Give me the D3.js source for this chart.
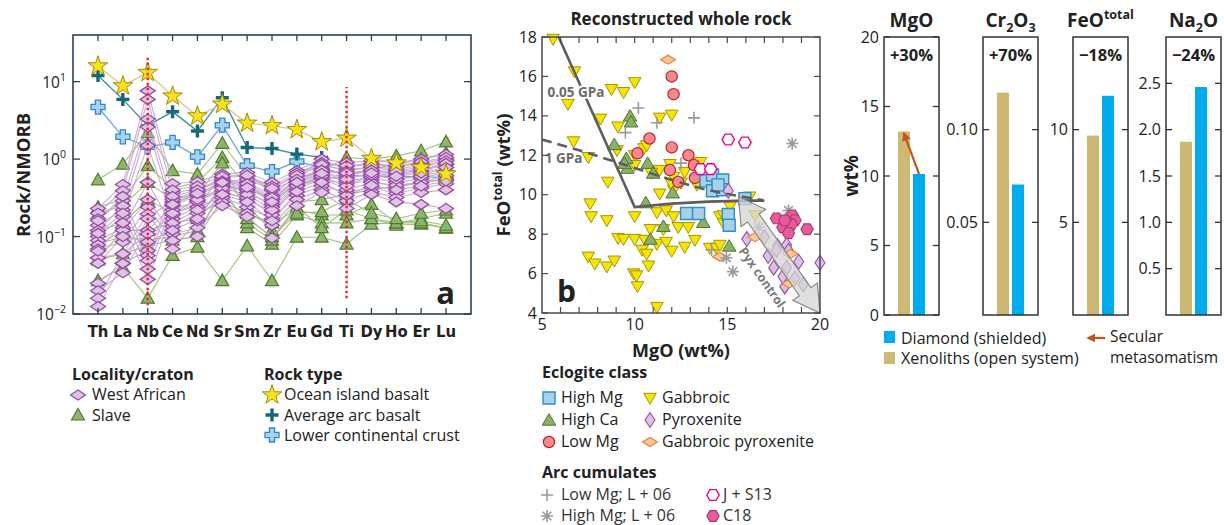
<!DOCTYPE html>
<html>
<head>
<meta charset="utf-8">
<script src="https://cdn.jsdelivr.net/npm/d3@7"></script>
<style>
  body { margin: 0; background: #fff; }
  svg { display: block; font-family: "Open Sans", "Noto Sans", sans-serif; }
</style>
</head>
<body>
<svg id="fig" width="1224" height="525"></svg>
<script>
// ---------- data: panel a (normalised to NMORB) ----------
const elements = ["Th","La","Nb","Ce","Nd","Sr","Sm","Zr","Eu","Gd","Ti","Dy","Ho","Er","Lu"];

const oib       = [15.9, 8.8, 13.1, 6.5, 3.6, 5.1, 2.9, 2.7, 2.4, 1.67, 1.86, 1.02, 0.89, 0.78, 0.64];
const arcBasalt = [12.0, 5.9, 2.7, 4.1, 2.3, 6.2, 1.41, 1.37, 1.16, 1.05, null, null, null, null, null];
const lowerCrust = [4.7, 1.94, 1.44, 1.64, 1.07, 2.74, 0.82, 0.69, 0.93, 0.78, 0.62, 0.6, 0.6, 0.59, 0.58];

const westAfrican = [
  [0.23, 0.47, 7.6, 0.48, 0.51, 0.64, 0.67, 0.50, 0.71, 1.0, 0.9, 0.95, 0.9, 1.0, 1.15],
  [0.20, 0.39, 5.9, 0.37, 0.41, 0.55, 0.50, 0.34, 0.61, 0.82, 0.74, 0.78, 0.71, 0.78, 0.95],
  [0.17, 0.29, 3.3, 0.28, 0.34, 0.48, 0.37, 0.26, 0.50, 0.67, 0.58, 0.64, 0.55, 0.61, 0.78],
  [0.14, 0.22, 2.6, 0.22, 0.29, 0.39, 0.30, 0.21, 0.41, 0.55, 0.48, 0.53, 0.43, 0.50, 0.61],
  [0.10, 0.18, 1.5, 0.17, 0.24, 0.32, 0.24, 0.17, 0.34, 0.45, 0.37, 0.43, 0.36, 0.42, 0.48],
  [0.089, 0.13, 0.5, 0.135, 0.20, 0.28, 0.20, 0.14, 0.30, 0.40, 0.29, 0.38, 0.32, 0.37, 0.40],
  [0.078, 0.12, 0.30, 0.108, 0.13, 0.25, 0.18, 0.096, 0.25, 0.37, 0.23, 0.35, 0.28, 0.26, 0.23],
  [0.069, 0.085, 0.24, 0.089, 0.10, 0.45, 0.42, 0.30, 0.55, 0.75, 0.62, 0.70, 0.62, 0.70, 0.85],
  [0.053, 0.06, 0.195, 0.069, 0.16, 0.50, 0.55, 0.40, 0.65, 0.88, 0.80, 0.85, 0.80, 0.88, 1.0],
  [0.025, 0.045, 0.17, 0.30, 0.38, 0.58, 0.60, 0.45, 0.66, 0.90, 0.82, 0.88, 0.82, 0.92, 1.05],
  [0.020, 0.034, 0.12, 0.25, 0.34, 0.52, 0.45, 0.30, 0.52, 0.70, 0.65, 0.72, 0.65, 0.72, 0.85],
  [0.016, 0.06, 0.108, 0.19, 0.28, 0.44, 0.40, 0.24, 0.47, 0.62, 0.52, 0.58, 0.50, 0.56, 0.68],
  [0.0125, 0.045, 0.066, 0.15, 0.22, 0.36, 0.32, 0.19, 0.45, 0.58, 0.40, 0.50, 0.46, 0.50, 0.55],
  [0.16, 0.33, 0.057, 0.40, 0.45, 0.60, 0.62, 0.42, 0.62, 0.85, 0.70, 0.80, 0.75, 0.82, 0.95],
  [0.12, 0.25, 0.049, 0.33, 0.40, 0.52, 0.48, 0.32, 0.55, 0.72, 0.66, 0.72, 0.68, 0.74, 0.88],
  [0.065, 0.15, 0.028, 0.20, 0.30, 0.42, 0.35, 0.22, 0.45, 0.60, 0.45, 0.62, 0.55, 0.60, 0.70],
  [0.11, 0.20, 0.038, 0.26, 0.36, 0.50, 0.43, 0.28, 0.50, 0.65, 0.55, 0.66, 0.60, 0.66, 0.78],
  [0.045, 0.10, 0.085, 0.12, 0.17, 0.35, 0.28, 0.16, 0.38, 0.50, 0.34, 0.46, 0.40, 0.45, 0.52]
];

const slave = [
  [0.54, 0.86, 2.2, 0.71, 0.64, 1.6, 0.6, 0.4, 0.55, 0.7, 1.05, 1.0, 1.1, 1.28, 1.67],
  [0.24, 0.30, 0.82, 0.42, 0.50, 1.05, 0.45, 0.30, 0.45, 0.55, 0.60, 0.75, 0.85, 1.0, 1.2],
  [0.20, 0.25, 0.5, 0.30, 0.35, 0.89, 0.20, 0.15, 0.22, 0.19, 0.19, 0.26, 0.15, 0.17, 0.2],
  [0.051, 0.12, 0.12, 0.15, 0.17, 0.45, 0.13, 0.08, 0.19, 0.15, 0.15, 0.17, 0.14, 0.145, 0.128],
  [0.027, 0.04, 0.016, 0.057, 0.073, 0.027, 0.076, 0.027, 0.098, 0.098, 0.08, 0.145, 0.15, 0.15, 0.13],
  [0.05, 0.06, 0.076, 0.09, 0.10, 0.3, 0.15, 0.09, 0.24, 0.13, 0.22, 0.17, 0.15, 0.16, 0.14],
  [0.12, 0.15, 0.3, 0.2, 0.25, 0.6, 0.25, 0.12, 0.28, 0.3, 0.35, 0.4, 0.45, 0.5, 0.55],
  [0.08, 0.1, 0.09, 0.1, 0.12, 0.35, 0.17, 0.1, 0.2, 0.21, 0.3, 0.2, 0.17, 0.2, 0.22]
];

// red dotted anomaly markers: element, lower and upper value
const anomalyLines = [["Nb", 0.013, 21], ["Ti", 0.016, 8.5]];
const decadeTicks = [0.01, 0.1, 1, 10];

// ---------- data: panel b (MgO, FeO total, wt%) ----------
const gabbroic = [[5.6,17.9],[6.75,16.25],[6.4,14.6],[6.7,12.7],[7.5,11.9],[7.6,9.55],[7.65,8.9],[8.5,8.7],[8.55,10.65],[8.15,13.85],[8.75,15.35],[9.4,15.2],[10.0,15.7],[9.1,13.45],[9.05,12.25],[10.0,12.0],[10.5,12.35],[10.0,11.5],[11.35,13.9],[12.0,14.05],[11.35,11.25],[12.1,10.9],[11.35,10.05],[12.1,10.25],[12.7,11.15],[13.55,11.65],[13.35,10.5],[14.05,10.75],[10.0,8.9],[11.2,9.1],[11.7,9.2],[12.1,8.9],[12.35,8.35],[12.9,8.35],[10.85,8.25],[11.55,8.25],[9.1,7.8],[9.4,7.75],[10.0,7.75],[10.55,7.7],[11.2,7.5],[11.7,7.6],[13.25,7.7],[12.7,7.35],[10.4,7.2],[10.65,7.0],[12.0,7.15],[10.75,6.4],[7.5,6.85],[7.85,6.5],[8.5,6.35],[8.9,6.65],[9.95,6.0],[10.1,5.9],[10.15,5.35],[11.2,4.3],[14.6,8.9],[14.8,8.55],[14.05,7.3],[14.4,7.3],[14.6,7.45],[15.15,9.4],[16.2,9.9],[14.8,8.95],[16.5,8.95],[10.65,12.5],[10.9,11.1],[12.0,10.55],[11.9,11.55],[12.5,10.6]];
const highCa = [[9.75,14.0],[9.8,13.7],[8.9,12.55],[9.55,11.85],[9.6,11.35],[9.45,11.6],[10.7,11.6],[11.0,11.1],[12.05,10.1],[10.6,9.6],[11.55,8.4],[10.85,7.75],[13.7,8.6],[15.1,7.4]];
const lowMg = [[12.0,16.0],[12.1,15.1],[10.8,12.85],[12.0,12.4],[10.15,12.1],[12.9,12.0],[11.9,11.25],[12.35,10.65],[13.2,11.5],[13.25,10.85]];
const highMg = [[13.85,10.7],[14.2,11.0],[14.75,10.75],[14.2,10.2],[14.75,10.25],[12.8,9.05],[13.45,9.05],[15.05,9.0],[15.1,8.45],[15.95,9.8],[14.5,10.5]];
const pyroxenite = [[15.05,10.2],[16.05,7.75],[17.2,6.9],[17.7,7.4],[18.2,7.45],[18.3,7.15],[17.5,6.3],[18.2,6.3],[18.85,6.6],[20.0,6.55],[18.1,5.35],[18.65,5.75],[19.1,5.45],[17.65,7.2],[18.0,5.85],[17.0,7.85]];
const gabbroicPyx = [[11.8,16.85],[14.6,6.85],[16.5,7.85],[18.4,7.0],[18.35,5.5]];
const lowMgL06 = [[10.2,14.4],[9.5,13.15],[11.2,13.65],[13.2,13.9],[12.5,11.6],[14.15,7.2]];
const highMgL06 = [[18.5,12.6],[18.3,9.2],[14.95,6.8],[15.3,6.1],[16.7,8.35]];
const js13 = [[15.05,12.8],[15.95,12.65],[13.55,11.3],[14.1,11.3]];
const c18 = [[17.65,8.8],[18.5,8.95],[18.65,8.7],[18.0,8.35],[18.45,8.5],[18.3,8.05],[19.3,8.25],[18.1,8.7]];

const trend005GPa = [[5.9,18],[10.0,9.37],[12,9.55],[14,9.65],[16,9.7],[17,9.7]];
const trend1GPa = [[5,12.8],[7,12.25],[9.2,11.6],[11.5,10.9],[13.9,10.25],[15.5,9.95],[16.9,9.73]];
const pyxArrow = [[15.6,9.9],[20,4.0]];

// ---------- data: bar panels ----------
const oxides = ["MgO","Cr2O3","FeO","Na2O"];
const xenolithVals = [13.2, 0.120, 9.68, 1.87];
const diamondVals = [10.15, 0.0704, 11.83, 2.46];
const changeLabels = ["+30%", "+70%", "\u221218%", "\u221224%"];
const axisMax = [20, 0.15, 15, 3];
const axisTicks = [[0,5,10,15,20],[0.05,0.10],[5,10],[0.5,1.0,1.5,2.0,2.5]];
const tickFormats = [d3.format("d"), d3.format(".2f"), d3.format("d"), d3.format(".1f")];

// ---------- helpers ----------
const svg = d3.select("#fig");
svg.append("rect").attr("width",1224).attr("height",525).attr("fill","#fff");

function hexPath(r) {
  return d3.range(6).map(k => {
    const a = k * Math.PI / 3;
    return (k ? "L" : "M") + (r*Math.cos(a)).toFixed(2) + "," + (r*Math.sin(a)).toFixed(2);
  }).join("") + "Z";
}
const shapes = {
  diamondA: "M-7.5,0L0,-5L7.5,0L0,5Z",
  triA: "M0,-6.5L6.5,5L-6.5,5Z",
  star: d3.symbol(d3.symbolStar, 120)(),
  plusTeal: "M-1.7,-6.5H1.7V-1.7H6.5V1.7H1.7V6.5H-1.7V1.7H-6.5V-1.7H-1.7Z",
  cross: "M-2.6,-7H2.6V-2.6H7V2.6H2.6V7H-2.6V2.6H-7V-2.6H-2.6Z",
  triDown: "M-6.3,-4.7L6.3,-4.7L0,6.3Z",
  triUp: "M0,-6.3L6.8,5.2L-6.8,5.2Z",
  circle: d3.symbol(d3.symbolCircle, 100)(),
  square: "M-6,-6H6V6H-6Z",
  diamondV: "M0,-7.5L5,0L0,7.5L-5,0Z",
  diamondH: "M-7.5,0L0,-4.5L7.5,0L0,4.5Z",
  hex: hexPath(6.2),
  plusThin: "M-6,0H6M0,-6V6",
  asterisk: "M-6,0H6M0,-6V6M-4.3,-4.3L4.3,4.3M-4.3,4.3L4.3,-4.3"
};
const styles = {
  westAfrican: {shape:"diamondA", fill:"#dcc5e2", stroke:"#9a4ca6", sw:1.3},
  slave:       {shape:"triA", fill:"#8fb56c", stroke:"#4e7c2f", sw:1.2},
  oib:         {shape:"star", fill:"#f6e31d", stroke:"#a38a00", sw:1},
  arc:         {shape:"plusTeal", fill:"#17697a", stroke:"none", sw:0},
  lcc:         {shape:"cross", fill:"#a8d3ef", stroke:"#2f88cf", sw:1.3},
  gabbroic:    {shape:"triDown", fill:"#f6e500", stroke:"#a89500", sw:1},
  highCa:      {shape:"triUp", fill:"#8bb066", stroke:"#4a792b", sw:1},
  lowMg:       {shape:"circle", fill:"#f28c8c", stroke:"#c61f2d", sw:1.2},
  highMg:      {shape:"square", fill:"#a8d0e6", stroke:"#2a8fd0", sw:1.4},
  pyroxenite:  {shape:"diamondV", fill:"#dac3e2", stroke:"#9a4ca6", sw:1.1},
  gabbroicPyx: {shape:"diamondH", fill:"#fcc79b", stroke:"#ee7b2b", sw:1.1},
  lowMgL06:    {shape:"plusThin", fill:"none", stroke:"#9a9a9a", sw:1.6},
  highMgL06:   {shape:"asterisk", fill:"none", stroke:"#9a9a9a", sw:1.6},
  js13:        {shape:"hex", fill:"#fff", stroke:"#ec008c", sw:1.4},
  c18:         {shape:"hex", fill:"#e45c9b", stroke:"#b3346d", sw:1.1}
};
function mark(g, st, x, y) {
  g.append("path").attr("d", shapes[st.shape])
    .attr("transform", `translate(${x},${y})`)
    .attr("fill", st.fill).attr("stroke", st.stroke).attr("stroke-width", st.sw);
}
function rich(sel, parts, big) {
  // parts: [text, mode] with mode "", "sub" or "sup"
  let shift = 0;
  parts.forEach(([t, mode]) => {
    const want = mode === "sub" ? 5 : mode === "sup" ? -8 : 0;
    sel.append("tspan").attr("dy", want - shift)
      .attr("font-size", mode ? big * 0.66 : big).text(t);
    shift = want;
  });
}

// ================= PANEL A =================
const A = {l:73, r:471, t:35, b:314};
const ax = d3.scalePoint().domain(elements).range([98, 446]);
const ay = d3.scaleLog().domain([0.01, 40]).range([A.b, A.t]);
const ga = svg.append("g");
const lineA = d3.line().defined(d => d != null).x((d, i) => ax(elements[i])).y(d => ay(d));

function seriesA(data, st, color, width) {
  ga.append("path").attr("d", lineA(data)).attr("fill","none")
    .attr("stroke", color).attr("stroke-width", width);
  data.forEach((v, i) => { if (v != null) mark(ga, st, ax(elements[i]), ay(v)); });
}
slave.forEach(s => seriesA(s, styles.slave, "#9fc27b", 1.1));
seriesA(lowerCrust, styles.lcc, "#6aa6de", 1.3);
seriesA(arcBasalt, styles.arc, "#3a8b9c", 1.3);
westAfrican.forEach(s => ga.append("path").attr("d", lineA(s)).attr("fill","none")
  .attr("stroke","#c6a2d3").attr("stroke-width",1.1).attr("opacity",0.9));
westAfrican.forEach(s => s.forEach((v, i) => mark(ga, styles.westAfrican, ax(elements[i]), ay(v))));
seriesA(oib, styles.oib, "#d8c68d", 1.3);

anomalyLines.forEach(([el, lo, hi]) => {
  ga.append("line").attr("x1", ax(el)).attr("x2", ax(el)).attr("y1", ay(lo)).attr("y2", ay(hi))
    .attr("stroke","#e8262b").attr("stroke-width",2.4).attr("stroke-dasharray","2.4,2.6");
});

// frame and ticks
ga.append("rect").attr("x",A.l).attr("y",A.t).attr("width",A.r-A.l).attr("height",A.b-A.t)
  .attr("fill","none").attr("stroke","#2c4050").attr("stroke-width",1.6);
elements.forEach(e => {
  ga.append("line").attr("x1",ax(e)).attr("x2",ax(e)).attr("y1",A.b).attr("y2",A.b-6).attr("stroke","#2c4050").attr("stroke-width",1.3);
  ga.append("line").attr("x1",ax(e)).attr("x2",ax(e)).attr("y1",A.t).attr("y2",A.t+6).attr("stroke","#2c4050").attr("stroke-width",1.3);
  ga.append("text").attr("x",ax(e)).attr("y",337).attr("text-anchor","middle")
    .attr("font-family","'Liberation Sans Narrow','DejaVu Sans Condensed',sans-serif")
    .attr("font-weight","bold").attr("font-size",16.5).attr("fill","#222").text(e);
});
decadeTicks.forEach(v => {
  ga.append("line").attr("x1",A.r).attr("x2",A.r-7).attr("y1",ay(v)).attr("y2",ay(v)).attr("stroke","#2c4050").attr("stroke-width",1.3);
  ga.append("line").attr("x1",A.l).attr("x2",A.l+7).attr("y1",ay(v)).attr("y2",ay(v)).attr("stroke","#2c4050").attr("stroke-width",1.3);
  const t = ga.append("text").attr("x",66).attr("y",ay(v)+6).attr("text-anchor","end")
    .attr("font-size",15.5).attr("fill","#222");
  t.append("tspan").text("10");
  t.append("tspan").attr("dy",-7).attr("font-size",10.5)
    .text(String(Math.round(Math.log10(v))).replace("-", "\u2212"));
});
ga.append("text").attr("transform","translate(30,175) rotate(-90)").attr("text-anchor","middle")
  .attr("font-weight","bold").attr("font-size",18.5).attr("fill","#222").text("Rock/NMORB");
ga.append("text").attr("x",455).attr("y",304).attr("text-anchor","end")
  .attr("font-weight","bold").attr("font-size",31).attr("fill","#222").text("a");

// legend a
const la = svg.append("g").attr("font-size",16).attr("fill","#222");
la.append("text").attr("x",72).attr("y",380).attr("font-weight","bold").text("Locality/craton");
mark(la, styles.westAfrican, 78, 395); la.append("text").attr("x",92).attr("y",400).text("West African");
mark(la, styles.slave, 78, 415); la.append("text").attr("x",92).attr("y",421).text("Slave");
la.append("text").attr("x",264).attr("y",380).attr("font-weight","bold").text("Rock type");
mark(la, styles.oib, 272, 395); la.append("text").attr("x",284).attr("y",400).text("Ocean island basalt");
mark(la, styles.arc, 272, 415); la.append("text").attr("x",284).attr("y",421).text("Average arc basalt");
mark(la, styles.lcc, 272, 435); la.append("text").attr("x",284).attr("y",441).text("Lower continental crust");

// ================= PANEL B =================
const B = {l:542, r:820, t:37, b:313};
const bx = d3.scaleLinear().domain([5, 20]).range([B.l, B.r]);
const by = d3.scaleLinear().domain([4, 18]).range([B.b, B.t]);
const gb = svg.append("g");

[["gabbroic",gabbroic],["highCa",highCa],["lowMg",lowMg],["highMg",highMg],["pyroxenite",pyroxenite],
 ["gabbroicPyx",gabbroicPyx],["lowMgL06",lowMgL06],["highMgL06",highMgL06],["js13",js13],["c18",c18]]
  .forEach(([k, pts]) => pts.forEach(p => mark(gb, styles[k], bx(p[0]), by(p[1]))));

const lineB = d3.line().x(d => bx(d[0])).y(d => by(d[1]));
gb.append("path").attr("d", lineB(trend005GPa)).attr("fill","none").attr("stroke","#5e5e5e").attr("stroke-width",2.6);
gb.append("path").attr("d", lineB.curve(d3.curveMonotoneX)(trend1GPa)).attr("fill","none").attr("stroke","#5e5e5e")
  .attr("stroke-width",2.6).attr("stroke-dasharray","10,6");

// pyroxene-control double arrow
{
  const p0 = [bx(pyxArrow[0][0]), by(pyxArrow[0][1])], p1 = [bx(pyxArrow[1][0]), by(pyxArrow[1][1])];
  const dx = p1[0]-p0[0], dy = p1[1]-p0[1], len = Math.hypot(dx, dy);
  const u = [dx/len, dy/len], n = [-u[1], u[0]];
  const sw = 7, hw = 15, hl = 26;
  const at = (p, s, w) => [p[0] + u[0]*s + n[0]*w, p[1] + u[1]*s + n[1]*w];
  const poly = [p0, at(p0,hl,hw), at(p0,hl,sw), at(p1,-hl,sw), at(p1,-hl,hw), p1,
                at(p1,-hl,-hw), at(p1,-hl,-sw), at(p0,hl,-sw), at(p0,hl,-hw)];
  gb.append("path").attr("d","M"+poly.map(p=>p.join(",")).join("L")+"Z")
    .attr("fill","#d4d4d4").attr("fill-opacity",0.75).attr("stroke","#8a8a8a").attr("stroke-width",1.2);
  const ang = Math.atan2(dy, dx) * 180 / Math.PI;
  const mid = at(p0, len * 0.56, 27);
  gb.append("text").attr("transform",`translate(${mid[0]},${mid[1]}) rotate(${ang})`)
    .attr("text-anchor","middle").attr("dy","0.35em").attr("font-weight","bold").attr("font-size",12.5)
    .attr("fill","#7a7a7a").text("Pyx control");
}

gb.append("text").attr("x",bx(5.3)).attr("y",by(14.95)).attr("font-weight","bold").attr("font-size",13.5)
  .attr("fill","#6b6b6b").attr("stroke","#fff").attr("stroke-width",4).attr("paint-order","stroke").text("0.05 GPa");
gb.append("text").attr("x",bx(5.15)).attr("y",by(11.6)).attr("font-weight","bold").attr("font-size",13.5)
  .attr("fill","#6b6b6b").attr("stroke","#fff").attr("stroke-width",3).attr("paint-order","stroke").text("1 GPa");

gb.append("rect").attr("x",B.l).attr("y",B.t).attr("width",B.r-B.l).attr("height",B.b-B.t)
  .attr("fill","none").attr("stroke","#4a4a4a").attr("stroke-width",1.5);
d3.range(6, 20).forEach(v => {
  gb.append("line").attr("x1",bx(v)).attr("x2",bx(v)).attr("y1",B.b).attr("y2",B.b-6).attr("stroke","#4a4a4a").attr("stroke-width",1.2);
  gb.append("line").attr("x1",bx(v)).attr("x2",bx(v)).attr("y1",B.t).attr("y2",B.t+6).attr("stroke","#4a4a4a").attr("stroke-width",1.2);
});
[5,10,15,20].forEach(v => gb.append("text").attr("x",bx(v)).attr("y",330).attr("text-anchor","middle")
  .attr("font-size",16).attr("fill","#222").text(v));
d3.range(4, 19, 2).forEach(v => {
  gb.append("line").attr("x1",B.l).attr("x2",B.l+6).attr("y1",by(v)).attr("y2",by(v)).attr("stroke","#4a4a4a").attr("stroke-width",1.2);
  gb.append("line").attr("x1",B.r).attr("x2",B.r-6).attr("y1",by(v)).attr("y2",by(v)).attr("stroke","#4a4a4a").attr("stroke-width",1.2);
  gb.append("text").attr("x",537).attr("y",by(v)+5.5).attr("text-anchor","end")
    .attr("font-size",16).attr("fill","#222").text(v);
});
gb.append("text").attr("x",681).attr("y",25).attr("text-anchor","middle").attr("font-weight","bold")
  .attr("font-size",17).attr("fill","#222").text("Reconstructed whole rock");
gb.append("text").attr("x",681).attr("y",357).attr("text-anchor","middle").attr("font-weight","bold")
  .attr("font-size",18).attr("fill","#222").text("MgO (wt%)");
{
  const t = gb.append("text").attr("transform","translate(510,175) rotate(-90)").attr("text-anchor","middle")
    .attr("font-weight","bold").attr("fill","#222");
  rich(t, [["FeO",""],["total","sup"],[" (wt%)",""]], 18.5);
}
gb.append("text").attr("x",557).attr("y",302).attr("font-weight","bold").attr("font-size",30).attr("fill","#222").text("b");

// legend b
const lb = svg.append("g").attr("font-size",16).attr("fill","#222");
lb.append("text").attr("x",542).attr("y",378).attr("font-weight","bold").text("Eclogite class");
[[["highMg","High Mg"],["gabbroic","Gabbroic"]],
 [["highCa","High Ca"],["pyroxenite","Pyroxenite"]],
 [["lowMg","Low Mg"],["gabbroicPyx","Gabbroic pyroxenite"]]].forEach((row, r) => {
  const y = 403 + r * 22;
  mark(lb, styles[row[0][0]], 549, y - 5); lb.append("text").attr("x",561).attr("y",y).text(row[0][1]);
  mark(lb, styles[row[1][0]], 650, y - 5); lb.append("text").attr("x",662).attr("y",y).text(row[1][1]);
});
lb.append("text").attr("x",542).attr("y",478).attr("font-weight","bold").text("Arc cumulates");
[[["lowMgL06","Low Mg; L + 06"],["js13","J + S13"]],
 [["highMgL06","High Mg; L + 06"],["c18","C18"]]].forEach((row, r) => {
  const y = 500 + r * 21;
  mark(lb, styles[row[0][0]], 547, y - 5); lb.append("text").attr("x",561).attr("y",y).attr("fill","#333").text(row[0][1]);
  mark(lb, styles[row[1][0]], 713, y - 5); lb.append("text").attr("x",723).attr("y",y).attr("fill","#333").text(row[1][1]);
});

// ================= BAR PANELS =================
const panelLeft = [884, 983, 1073, 1166];
const panelW = 55, barTop = 37, barBot = 315;
const titles = [
  [["MgO",""]],
  [["Cr",""],["2","sub"],["O",""],["3","sub"]],
  [["FeO",""],["total","sup"]],
  [["Na",""],["2","sub"],["O",""]]
];
const gc = svg.append("g");
const defs = svg.append("defs");
defs.append("marker").attr("id","ah").attr("viewBox","0 0 10 10").attr("refX",8).attr("refY",5)
  .attr("markerWidth",4).attr("markerHeight",4).attr("orient","auto-start-reverse")
  .append("path").attr("d","M0,0L10,5L0,10Z").attr("fill","#c0561c");

oxides.forEach((ox, i) => {
  const x0 = panelLeft[i];
  const y = d3.scaleLinear().domain([0, axisMax[i]]).range([barBot, barTop]);
  const xb = d3.scaleBand().domain(["xeno","diamond"]).range([x0, x0 + panelW]).paddingInner(0.2).paddingOuter(0.93);
  gc.append("rect").attr("x",xb("xeno")).attr("width",xb.bandwidth()).attr("y",y(xenolithVals[i]))
    .attr("height",barBot - y(xenolithVals[i])).attr("fill","#cdb874");
  gc.append("rect").attr("x",xb("diamond")).attr("width",xb.bandwidth()).attr("y",y(diamondVals[i]))
    .attr("height",barBot - y(diamondVals[i])).attr("fill","#00acec");
  gc.append("rect").attr("x",x0).attr("y",barTop).attr("width",panelW).attr("height",barBot-barTop)
    .attr("fill","none").attr("stroke","#333").attr("stroke-width",1.5);
  axisTicks[i].forEach(v => {
    gc.append("line").attr("x1",x0).attr("x2",x0+6).attr("y1",y(v)).attr("y2",y(v)).attr("stroke","#333").attr("stroke-width",1.3);
    gc.append("line").attr("x1",x0+panelW).attr("x2",x0+panelW-6).attr("y1",y(v)).attr("y2",y(v)).attr("stroke","#333").attr("stroke-width",1.3);
    gc.append("text").attr("x",x0-5).attr("y",y(v)+5.5).attr("text-anchor","end").attr("font-size",16)
      .attr("fill","#222").text(tickFormats[i](v));
  });
  const t = gc.append("text").attr("x",x0+panelW/2).attr("y",27).attr("text-anchor","middle")
    .attr("font-weight","bold").attr("fill","#222");
  rich(t, titles[i], 19);
  gc.append("text").attr("x",x0+panelW/2).attr("y",61).attr("text-anchor","middle").attr("font-weight","bold")
    .attr("font-size",16.5).attr("fill","#222").text(changeLabels[i]);
  if (i === 0) {
    gc.append("line").attr("x1",xb("diamond")+xb.bandwidth()/2).attr("y1",y(diamondVals[i]))
      .attr("x2",xb("xeno")+xb.bandwidth()/2).attr("y2",y(xenolithVals[i])+2)
      .attr("stroke","#c0561c").attr("stroke-width",2.2).attr("marker-end","url(#ah)");
  }
});
gc.append("text").attr("transform","translate(858,176) rotate(-90)").attr("text-anchor","middle")
  .attr("font-weight","bold").attr("font-size",19).attr("fill","#222").text("wt%");

// legend bars
const lc = svg.append("g").attr("font-size",16).attr("fill","#222");
lc.append("rect").attr("x",884).attr("y",331).attr("width",11).attr("height",12).attr("fill","#00acec");
lc.append("text").attr("x",901).attr("y",344).text("Diamond (shielded)");
lc.append("rect").attr("x",884).attr("y",352).attr("width",11).attr("height",12).attr("fill","#cdb874");
lc.append("text").attr("x",901).attr("y",364).text("Xenoliths (open system)");
lc.append("line").attr("x1",1105).attr("x2",1088).attr("y1",338).attr("y2",338)
  .attr("stroke","#c0561c").attr("stroke-width",2.2).attr("marker-end","url(#ah)");
lc.append("text").attr("x",1110).attr("y",342).attr("font-size",15.5).text("Secular");
lc.append("text").attr("x",1110).attr("y",363).attr("font-size",15.5).text("metasomatism");
</script>
</body>
</html>
